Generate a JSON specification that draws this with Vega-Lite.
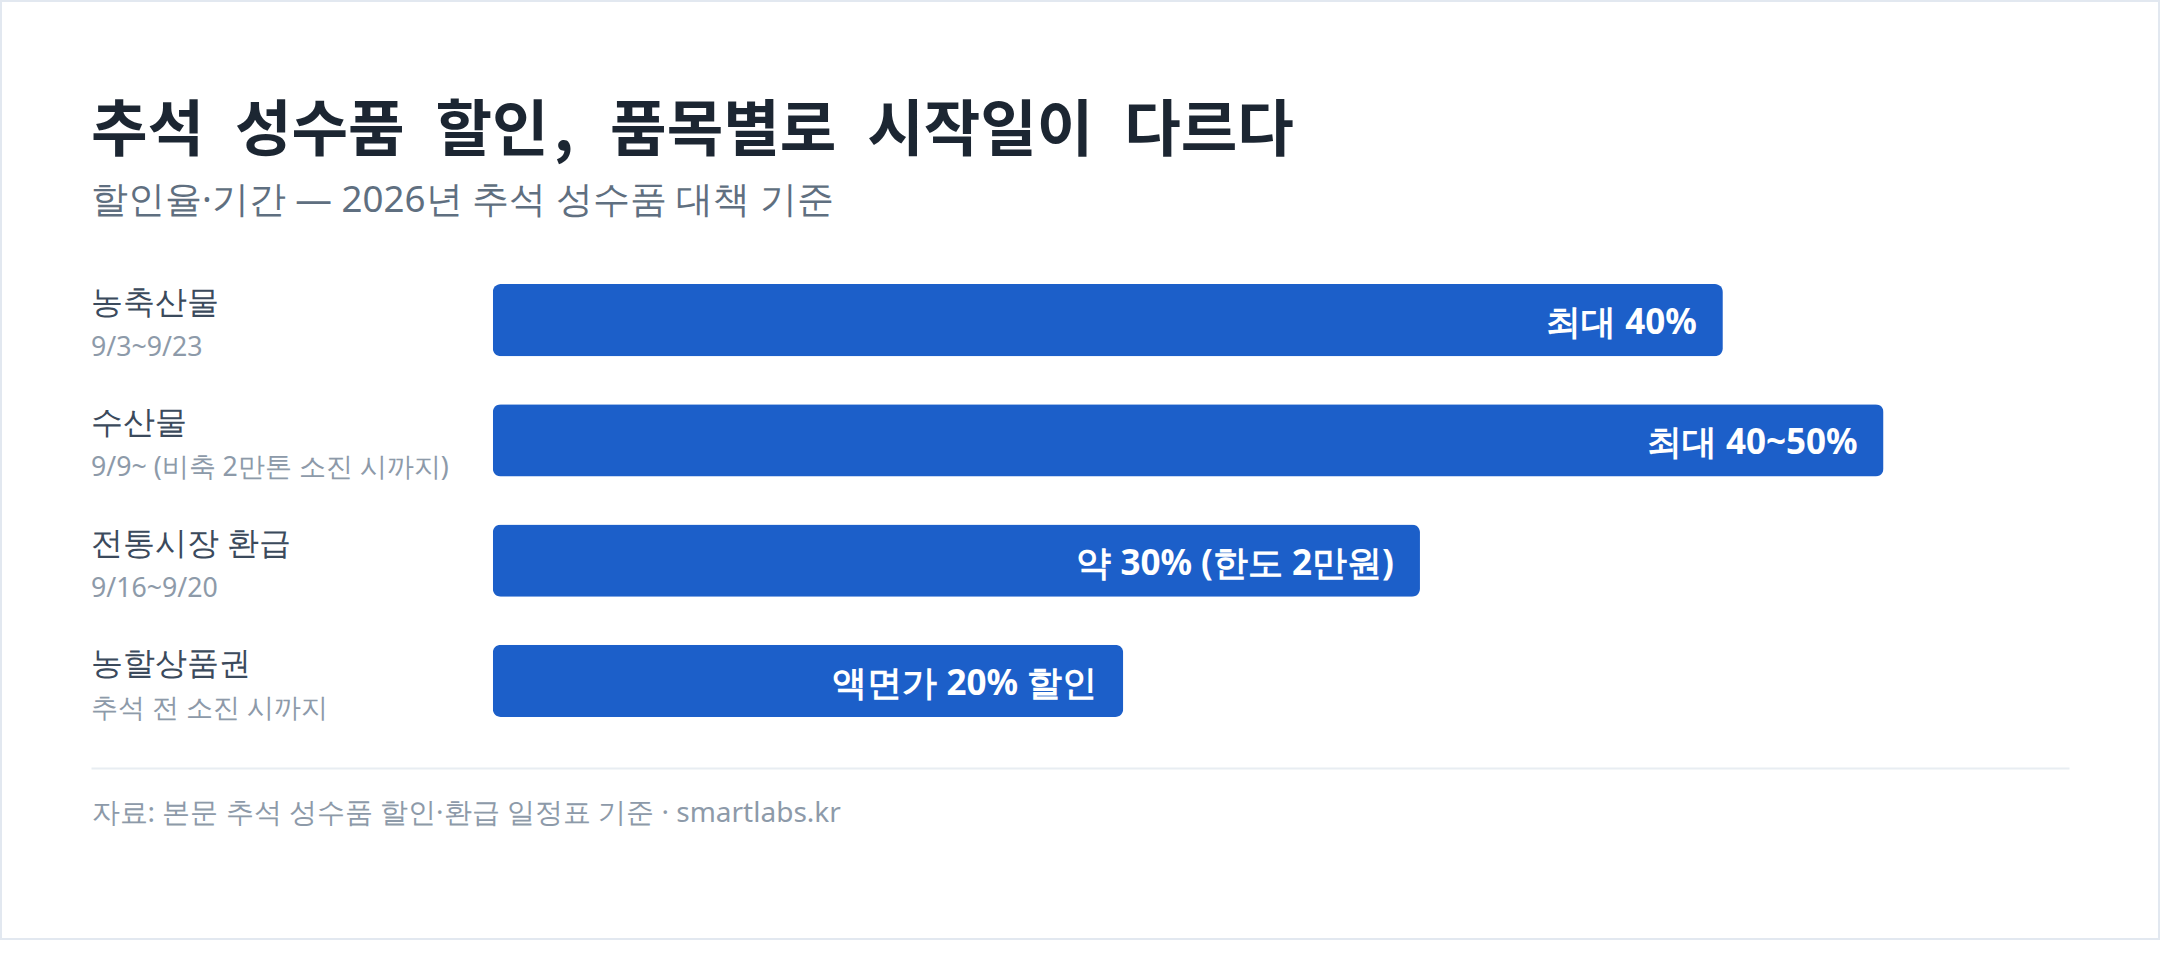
{
  "$schema": "https://vega.github.io/schema/vega-lite/v6.json",
  "width": 2160,
  "height": 940,
  "autosize": {"type": "none"},
  "padding": 0,
  "background": "white",
  "config": {
    "view": {"stroke": "#e2e8f0", "strokeWidth": 4, "fill": "white"},
    "font": "Noto Sans"
  },
  "title": {
    "text": "추석 성수품 할인, 품목별로 시작일이 다르다",
    "subtitle": "할인율·기간 — 2026년 추석 성수품 대책 기준",
    "anchor": "start",
    "frame": "group",
    "orient": "top",
    "offset": -220,
    "dx": 91,
    "font": "Noto Sans Mono CJK KR",
    "fontSize": 61.5,
    "fontWeight": "bold",
    "color": "#1c2632",
    "subtitleFont": "Noto Sans",
    "subtitleFontSize": 36.7,
    "subtitleColor": "#5f6f80",
    "subtitlePadding": 20
  },
  "data": {
    "values": [
      {"item": "농축산물", "period": "9/3~9/23", "value": 39.8, "label": "최대 40%"},
      {"item": "수산물", "period": "9/9~ (비축 2만톤 소진 시까지)", "value": 45, "label": "최대 40~50%"},
      {"item": "전통시장 환급", "period": "9/16~9/20", "value": 30, "label": "약 30% (한도 2만원)"},
      {"item": "농할상품권", "period": "추석 전 소진 시까지", "value": 20.4, "label": "액면가 20% 할인"}
    ]
  },
  "encoding": {
    "y": {
      "field": "item",
      "type": "nominal",
      "sort": null,
      "axis": null,
      "scale": {"range": [234, 767], "paddingInner": 0.4, "paddingOuter": 0.4157}
    }
  },
  "layer": [
    {
      "mark": {"type": "bar", "color": "#1c5fc9", "cornerRadius": 8},
      "encoding": {
        "x": {
          "field": "value",
          "type": "quantitative",
          "scale": {"domain": [-13, 51], "range": [91, 2069], "nice": false, "zero": true},
          "axis": {
            "title": "자료: 본문 추석 성수품 할인·환급 일정표 기준 · smartlabs.kr",
            "labels": false,
            "ticks": false,
            "grid": false,
            "domain": true,
            "domainColor": "#e8edf2",
            "domainWidth": 2,
            "offset": -172,
            "titleAnchor": "start",
            "titleAlign": "left",
            "titleBaseline": "top",
            "titlePadding": 31,
            "titleFont": "Noto Sans",
            "titleFontSize": 28,
            "titleFontWeight": "normal",
            "titleColor": "#8d9aa9"
          }
        }
      }
    },
    {
      "mark": {"type": "text", "align": "right", "baseline": "middle", "dx": -26, "dy": 3, "color": "white", "fontSize": 35, "fontWeight": "bold", "font": "Noto Sans"},
      "encoding": {
        "x": {"field": "value", "type": "quantitative"},
        "text": {"field": "label"}
      }
    },
    {
      "mark": {"type": "text", "align": "left", "baseline": "middle", "dy": -17, "color": "#3b4a5c", "fontSize": 32, "font": "Noto Sans"},
      "encoding": {
        "x": {"datum": -13, "type": "quantitative"},
        "text": {"field": "item"}
      }
    },
    {
      "mark": {"type": "text", "align": "left", "baseline": "middle", "dy": 28, "color": "#8d9aa9", "fontSize": 26.7, "font": "Noto Sans"},
      "encoding": {
        "x": {"datum": -13, "type": "quantitative"},
        "text": {"field": "period"}
      }
    }
  ]
}
